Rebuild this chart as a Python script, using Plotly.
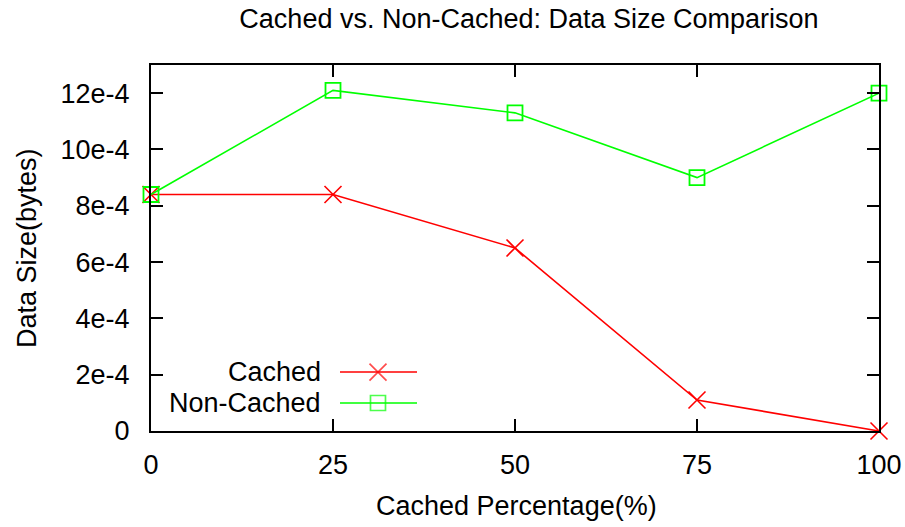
import plotly.graph_objects as go

cached_pct = [0, 25, 50, 75, 100]
cached = [8.4e-4, 8.4e-4, 6.5e-4, 1.1e-4, 0.0]
non_cached = [8.4e-4, 12.1e-4, 11.3e-4, 9.0e-4, 12.0e-4]
y_tickvals = [0, 2e-4, 4e-4, 6e-4, 8e-4, 10e-4, 12e-4]
y_ticktext = ["0", "2e-4", "4e-4", "6e-4", "8e-4", "10e-4", "12e-4"]
x_tickvals = [0, 25, 50, 75, 100]

FONT = "Liberation Sans, Arial, sans-serif"
RED = "#ff0000"
GREEN = "#00ff00"
FS = 27

fig = go.Figure()
fig.add_trace(go.Scatter(x=cached_pct, y=cached, mode="lines+markers", name="Cached",
                         line=dict(color=RED, width=1.6),
                         marker=dict(symbol="x-thin-open", size=17, color=RED,
                                     line=dict(color=RED, width=1.6)),
                         showlegend=False, cliponaxis=False))
fig.add_trace(go.Scatter(x=cached_pct, y=non_cached, mode="lines+markers", name="Non-Cached",
                         line=dict(color=GREEN, width=1.6),
                         marker=dict(symbol="square-open", size=15, color=GREEN,
                                     line=dict(color=GREEN, width=1.8)),
                         showlegend=False, cliponaxis=False))

# custom gnuplot-style legend (sample to the right of the label)
leg_x = [0.2596, 0.3118, 0.3654]
for name, color, sym, size, yv in [("Cached", RED, "x-thin-open", 17, 0.161),
                                   ("Non-Cached", GREEN, "square-open", 15, 0.0765)]:
    fig.add_trace(go.Scatter(x=leg_x, y=[yv] * 3, xaxis="x2", yaxis="y2",
                             mode="lines+markers", showlegend=False, hoverinfo="skip",
                             line=dict(color=color, width=1.6),
                             marker=dict(symbol=sym, size=[0, size, 0], color=color,
                                         line=dict(color=color, width=1.7))))
    fig.add_annotation(x=0.236, y=yv, xref="paper", yref="paper", text=name,
                       showarrow=False, xanchor="right", yanchor="middle",
                       font=dict(family=FONT, size=FS, color="black"))

axis_common = dict(showline=True, linecolor="black", linewidth=2, mirror="ticks",
                   ticks="inside", ticklen=12, tickwidth=2, tickcolor="black",
                   showgrid=False, zeroline=False, automargin=False,
                   tickfont=dict(family=FONT, size=FS, color="black"))

fig.update_layout(
    width=905, height=527,
    margin=dict(l=151, r=26, t=65, b=96, autoexpand=False),
    paper_bgcolor="white", plot_bgcolor="white",
    title=dict(text="Cached vs. Non-Cached: Data Size Comparison", x=529 / 905, xref="container",
               xanchor="center", y=1 - 19 / 527, yref="container", yanchor="middle",
               font=dict(family=FONT, size=FS, color="black")),
    xaxis=dict(range=[0, 100], tickvals=x_tickvals, ticklabelstandoff=9, **axis_common),
    yaxis=dict(range=[0, 13e-4], tickvals=y_tickvals, ticktext=y_ticktext,
               ticklabelstandoff=14, **axis_common),
    xaxis2=dict(range=[0, 1], overlaying="x", visible=False),
    yaxis2=dict(range=[0, 1], overlaying="y", visible=False),
    showlegend=False,
)
fig.add_annotation(x=(27 - 151) / 728, y=0.5, xref="paper", yref="paper", text="Data Size(bytes)",
                   textangle=-90, showarrow=False, xanchor="center", yanchor="middle",
                   font=dict(family=FONT, size=FS, color="black"))
fig.add_annotation(x=(516 - 151) / 728, y=(431 - 506) / 366, xref="paper", yref="paper",
                   text="Cached Percentage(%)", showarrow=False, xanchor="center", yanchor="middle",
                   font=dict(family=FONT, size=FS, color="black"))

fig.write_html("out.html", config={"displayModeBar": False},
               post_script="document.body.style.margin='0';")
